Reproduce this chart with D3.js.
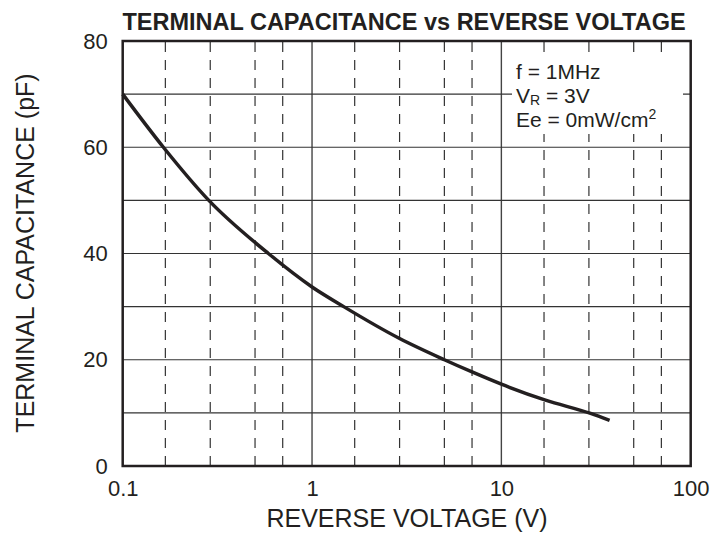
<!DOCTYPE html>
<html>
<head>
<meta charset="utf-8">
<script src="https://cdn.jsdelivr.net/npm/d3@7"></script>
<style>
  body { margin: 0; background: #fff; }
  text { font-family: "Liberation Sans", Arial, sans-serif; fill: #231f20; }
</style>
</head>
<body>
<div id="chart"></div>
<script>
// Curve (reverse voltage in V, capacitance in pF)
var voltage     = [0.1, 0.164, 0.285, 0.588, 1.0, 1.47, 2.9, 5.0, 7.0, 10, 17.1, 29.6, 37.3];
var capacitance = [70, 60, 50, 40, 33.7, 30, 24, 20, 17.7, 15.4, 12.4, 9.9, 8.6];

// Axis ticks
var xMajorTicks = [0.1, 1, 10, 100];
var xMinorMult = [1.68, 2.9, 5, 7];
var yGridTicks = [10, 20, 30, 40, 50, 60, 70];
var yLabelTicks = [0, 20, 40, 60, 80];
var legendLines = ["f = 1MHz", "V", "R", " = 3V", "Ee = 0mW/cm", "2"];

var W = 712, H = 534;
var m = { left: 122.7, right: 21.3, top: 41, bottom: 68 };

var svg = d3.select('#chart').append('svg')
  .attr('width', W)
  .attr('height', H);

var x = d3.scaleLog().domain([0.1, 100]).range([m.left, W - m.right]);
var y = d3.scaleLinear().domain([0, 80]).range([H - m.bottom, m.top]);

// minor (dashed) vertical lines
var minorTicks = [];
[0.1, 1, 10].forEach(function(d){
  xMinorMult.forEach(function(k){ minorTicks.push(d * k); });
});

var grid = svg.append('g');

grid.selectAll('.vminor').data(minorTicks).enter().append('line')
  .attr('class', 'vminor')
  .attr('x1', function(d){ return x(d); })
  .attr('x2', function(d){ return x(d); })
  .attr('y1', y(0))
  .attr('y2', y(80))
  .attr('stroke', '#333')
  .attr('stroke-width', 1.2)
  .attr('stroke-dasharray', '10,8');

grid.selectAll('.vmajor').data([1, 10]).enter().append('line')
  .attr('class', 'vmajor')
  .attr('x1', function(d){ return x(d); })
  .attr('x2', function(d){ return x(d); })
  .attr('y1', y(0))
  .attr('y2', y(80))
  .attr('stroke', '#444')
  .attr('stroke-width', 1.4);

grid.selectAll('.hgrid').data(yGridTicks).enter().append('line')
  .attr('class', 'hgrid')
  .attr('x1', x(0.1))
  .attr('x2', x(100))
  .attr('y1', function(d){ return y(d); })
  .attr('y2', function(d){ return y(d); })
  .attr('stroke', '#333')
  .attr('stroke-width', 1.2);

// white box behind the conditions text
svg.append('rect')
  .attr('x', 512).attr('y', 57)
  .attr('width', 171).attr('height', 77)
  .attr('fill', '#fff');

// curve
var line = d3.line()
  .x(function(d, i){ return x(voltage[i]); })
  .y(function(d){ return y(d); })
  .curve(d3.curveMonotoneX);

svg.append('path')
  .datum(capacitance)
  .attr('d', line)
  .attr('fill', 'none')
  .attr('stroke', '#231f20')
  .attr('stroke-width', 3.5);

// frame
svg.append('rect')
  .attr('x', x(0.1)).attr('y', y(80))
  .attr('width', x(100) - x(0.1))
  .attr('height', y(0) - y(80))
  .attr('fill', 'none')
  .attr('stroke', '#231f20')
  .attr('stroke-width', 2.5);

// axes (labels only, lines come from the frame)
var xAxis = d3.axisBottom(x).tickValues(xMajorTicks)
  .tickFormat(function(d){ return d < 1 ? '0.1' : String(d); })
  .tickSize(0).tickPadding(14);
svg.append('g')
  .attr('transform', 'translate(0,' + y(0) + ')')
  .call(xAxis)
  .call(function(g){ g.select('.domain').remove(); })
  .selectAll('text')
    .attr('font-size', 22)
    .attr('font-family', '"Liberation Sans", Arial, sans-serif')
    .attr('fill', '#231f20');

var yAxis = d3.axisLeft(y).tickValues(yLabelTicks).tickSize(0).tickPadding(15);
svg.append('g')
  .attr('transform', 'translate(' + x(0.1) + ',0)')
  .call(yAxis)
  .call(function(g){ g.select('.domain').remove(); })
  .selectAll('text')
    .attr('font-size', 22)
    .attr('font-family', '"Liberation Sans", Arial, sans-serif')
    .attr('fill', '#231f20');

// title
svg.append('text')
  .attr('x', 404)
  .attr('y', 30)
  .attr('text-anchor', 'middle')
  .attr('font-size', 23.5)
  .attr('font-weight', 'bold')
  .text('TERMINAL CAPACITANCE vs REVERSE VOLTAGE');

// axis titles
svg.append('text')
  .attr('x', 407)
  .attr('y', 527)
  .attr('text-anchor', 'middle')
  .attr('font-size', 25)
  .text('REVERSE VOLTAGE (V)');

svg.append('text')
  .attr('transform', 'translate(34,253) rotate(-90)')
  .attr('text-anchor', 'middle')
  .attr('font-size', 25)
  .text('TERMINAL CAPACITANCE (pF)');

// conditions text
var cond = svg.append('g').attr('font-size', 21);
cond.append('text').attr('x', 516).attr('y', 79).text(legendLines[0]);

var t2 = cond.append('text').attr('x', 516).attr('y', 103);
t2.append('tspan').text(legendLines[1]);
t2.append('tspan').attr('font-size', 14).attr('dy', 2).text(legendLines[2]);
t2.append('tspan').attr('dy', -2).text(legendLines[3]);

var t3 = cond.append('text').attr('x', 516).attr('y', 127);
t3.append('tspan').text(legendLines[4]);
t3.append('tspan').attr('font-size', 14).attr('dy', -8).text(legendLines[5]);
</script>
</body>
</html>
